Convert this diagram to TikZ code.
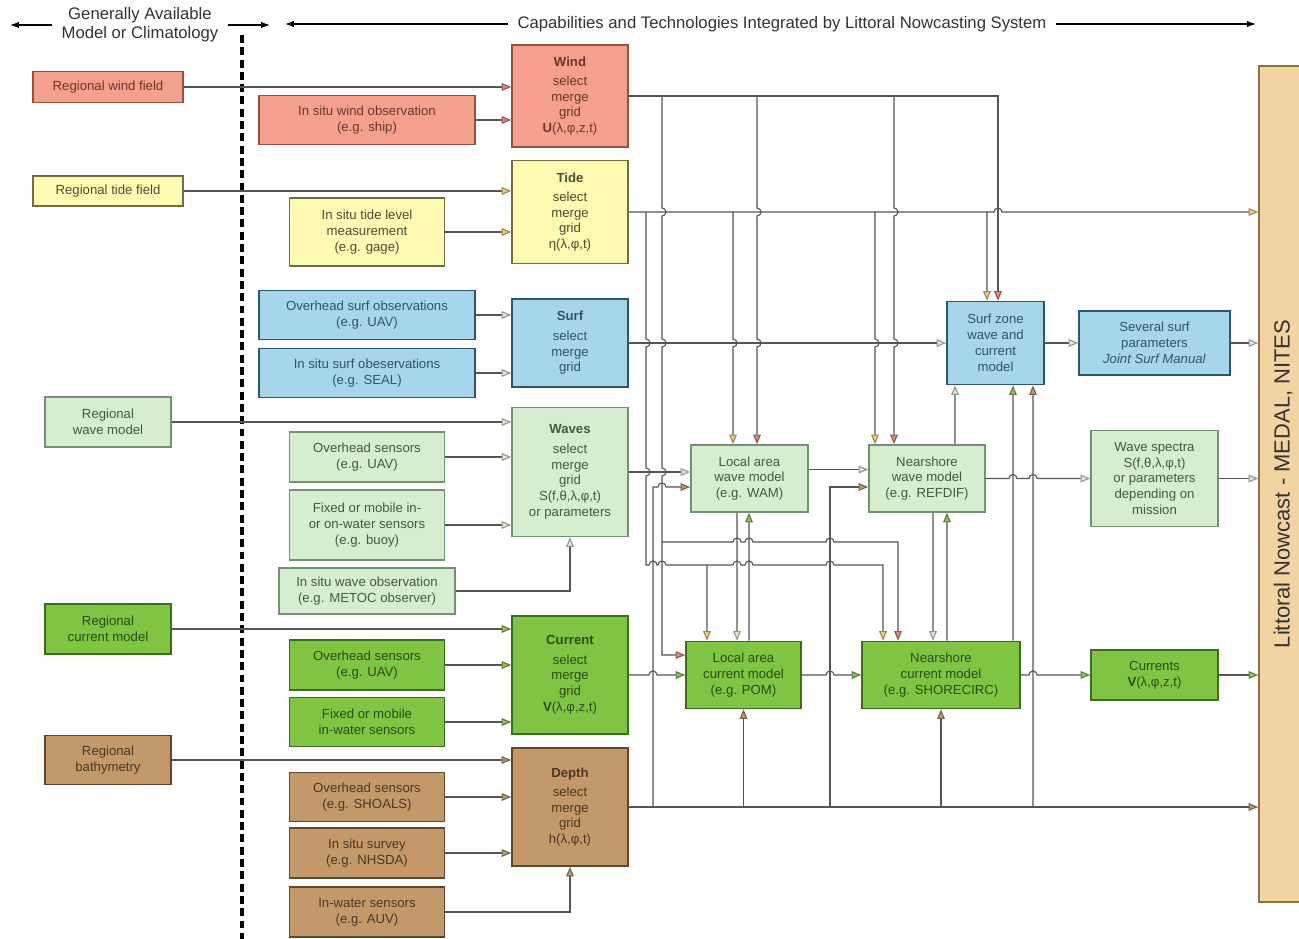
\documentclass[tikz,border=0pt]{standalone}
\usepackage{fontspec}
\setmainfont{Liberation Sans}
\usepackage{graphicx}
\usetikzlibrary{arrows.meta}

\definecolor{windfill}{RGB}{244,160,140}
\definecolor{winddraw}{RGB}{150,80,65}
\definecolor{tidefill}{RGB}{255,250,178}
\definecolor{tidedraw}{RGB}{110,110,70}
\definecolor{surffill}{RGB}{166,214,235}
\definecolor{surfdraw}{RGB}{45,85,110}
\definecolor{wavefill}{RGB}{214,237,208}
\definecolor{wavedraw}{RGB}{115,145,115}
\definecolor{curfill}{RGB}{128,196,68}
\definecolor{curdraw}{RGB}{60,110,30}
\definecolor{depfill}{RGB}{195,152,106}
\definecolor{depdraw}{RGB}{95,70,45}
\definecolor{barfill}{RGB}{242,212,162}
\definecolor{bardraw}{RGB}{140,115,70}
\definecolor{lncol}{RGB}{85,85,85}
\definecolor{windtip}{RGB}{225,140,120}
\definecolor{tidetip}{RGB}{240,210,130}
\definecolor{surftip}{RGB}{220,235,245}
\definecolor{wavetip}{RGB}{220,238,212}
\definecolor{curtip}{RGB}{150,195,90}
\definecolor{deptip}{RGB}{180,155,125}

\tikzset{
  box/.style 2 args={draw, line width=0.9pt, minimum width=#1*0.02cm,
    minimum height=#2*0.02cm, inner sep=1pt, align=center,
    font=\fontsize{7.5}{9}\selectfont},
  windbox/.style={fill=windfill, draw=winddraw, text=winddraw!70!black},
  tidebox/.style={fill=tidefill, draw=tidedraw, text=tidedraw!70!black},
  surfbox/.style={fill=surffill, draw=surfdraw, text=surfdraw},
  wavebox/.style={fill=wavefill, draw=wavedraw, text=wavedraw!60!black},
  curbox/.style={fill=curfill, draw=curdraw, text=curdraw!70!black},
  depbox/.style={fill=depfill, draw=depdraw, text=depdraw!80!black},
  barbox/.style={fill=barfill, draw=bardraw, text=black!80},
  ln/.style={draw=lncol, line width=0.65pt},
  tip/.style={-{Triangle[length=5.5pt,width=4.4pt,fill=#1,color=#1!65!black]}},
  head/.style={font=\fontsize{9.5}{11}\selectfont, align=center, inner sep=5pt, text=black!80},
  headarr/.style={-{Latex[length=5pt,width=3.5pt]}, line width=0.6pt},
  divider/.style={line width=2pt, dash pattern=on 4.5pt off 2.5pt},
}
\newcommand{\hopr}{0.08cm}

\begin{document}
\begin{tikzpicture}[x=0.02cm, y=-0.02cm]
\useasboundingbox (0,0) rectangle (1299,939);

% headers
\node[head] (hleft) at (140,25) {Generally Available\\Model or Climatology};
\node[head] (hright) at (782,24) {Capabilities and Technologies Integrated by Littoral Nowcasting System};
\draw[headarr] (hleft.west) -- (10,25);
\draw[headarr] (hleft.east) -- (270,25);
\draw[headarr] (hright.west) -- (285,24);
\draw[headarr] (hright.east) -- (1256,24);
\draw[divider] (242,35) -- (242,939);

% regional fields
\node[box={150}{31}, windbox] (rwind) at (108,87) {Regional wind field};
\node[box={150}{30}, tidebox] (rtide) at (108,191) {Regional tide field};
\node[box={126}{50}, wavebox] (rwave) at (108,422) {Regional\\wave model};
\node[box={126}{50}, curbox] (rcur) at (108,629) {Regional\\current model};
\node[box={126}{49}, depbox] (rbath) at (108,760) {Regional\\bathymetry};

% observations
\node[box={216}{49}, windbox] (owind) at (367,120) {In situ wind observation\\(e.g. ship)};
\node[box={155}{68}, tidebox] (otide) at (367,232) {In situ tide level\\measurement\\(e.g. gage)};
\node[box={216}{49}, surfbox] (osurfa) at (367,315) {Overhead surf observations\\(e.g. UAV)};
\node[box={216}{49}, surfbox] (osurfb) at (367,373) {In situ surf obeservations\\(e.g. SEAL)};
\node[box={155}{50}, wavebox] (owavea) at (367,457) {Overhead sensors\\(e.g. UAV)};
\node[box={155}{70}, wavebox] (owaveb) at (367,525) {Fixed or mobile in-\\or on-water sensors\\(e.g. buoy)};
\node[box={176}{46}, wavebox] (owavec) at (367,591) {In situ wave observation\\(e.g. METOC observer)};
\node[box={155}{50}, curbox] (ocura) at (367,665) {Overhead sensors\\(e.g. UAV)};
\node[box={155}{49}, curbox] (ocurb) at (367,722) {Fixed or mobile\\in-water sensors};
\node[box={155}{49}, depbox] (odepa) at (367,797) {Overhead sensors\\(e.g. SHOALS)};
\node[box={155}{50}, depbox] (odepb) at (367,853) {In situ survey\\(e.g. NHSDA)};
\node[box={155}{50}, depbox] (odepc) at (367,912) {In-water sensors\\(e.g. AUV)};

% select merge grid
\node[box={116}{102}, windbox] (swind) at (570,96) {\textbf{Wind}\\[2pt]select\\merge\\grid\\\textbf{U}(λ,φ,z,t)};
\node[box={116}{103}, tidebox] (stide) at (570,212) {\textbf{Tide}\\[2pt]select\\merge\\grid\\η(λ,φ,t)};
\node[box={116}{88}, surfbox] (ssurf) at (570,343) {\textbf{Surf}\\[2pt]select\\merge\\grid};
\node[box={116}{129}, wavebox] (swave) at (570,472) {\textbf{Waves}\\[2pt]select\\merge\\grid\\S(f,θ,λ,φ,t)\\or parameters};
\node[box={116}{118}, curbox] (scur) at (570,675) {\textbf{Current}\\[2pt]select\\merge\\grid\\\textbf{V}(λ,φ,z,t)};
\node[box={116}{118}, depbox] (sdep) at (570,807) {\textbf{Depth}\\[2pt]select\\merge\\grid\\h(λ,φ,t)};

% models and products
\node[box={117}{67}, wavebox] (wam) at (749.5,478.5) {Local area\\wave model\\(e.g. WAM)};
\node[box={116}{67}, wavebox] (nwm) at (927,478.5) {Nearshore\\wave model\\(e.g. REFDIF)};
\node[box={97}{83}, surfbox] (szm) at (995.5,343) {Surf zone\\wave and\\current\\model};
\node[box={151}{64}, surfbox] (ssp) at (1154.5,343) {Several surf\\parameters\\\textit{Joint Surf Manual}};
\node[box={127}{96}, wavebox] (wsp) at (1154.5,478.5) {Wave spectra\\S(f,θ,λ,φ,t)\\or parameters\\depending on\\mission};
\node[box={115}{67}, curbox] (lacm) at (743.5,675) {Local area\\current model\\(e.g. POM)};
\node[box={158}{67}, curbox] (ncm) at (941,675) {Nearshore\\current model\\(e.g. SHORECIRC)};
\node[box={127}{50}, curbox] (curs) at (1154.5,675) {Currents\\\textbf{V}(λ,φ,z,t)};
\node[box={48}{836}, barbox] (bar) at (1283,484) {\rotatebox{90}{\fontsize{12.5}{14}\selectfont Littoral Nowcast - MEDAL, NITES}};

% inputs into select boxes
\foreach \a/\b/\c in {rwind/swind/windtip, owind/swind/windtip, rtide/stide/tidetip,
    otide/stide/tidetip, osurfa/ssurf/surftip, osurfb/ssurf/surftip, rwave/swave/wavetip,
    owavea/swave/wavetip, owaveb/swave/wavetip, rcur/scur/curtip, ocura/scur/curtip,
    ocurb/scur/curtip, rbath/sdep/deptip, odepa/sdep/deptip, odepb/sdep/deptip}
  \draw[ln, tip=\c] (\a.east) -- (\a.east -| \b.west);
\draw[ln, tip=wavetip] (owavec.east) -| (swave.south);
\draw[ln, tip=deptip] (odepc.east) -| (sdep.south);

% wind
\draw[ln, tip=windtip] (swind.east) -| ([xshift=0.05cm]szm.north);
\draw[ln, tip=windtip] (757,96) \foreach \h in {212,343} {-- (757,\h-4) arc[start angle=90,end angle=-90,radius=\hopr]} -- ([xshift=0.15cm]wam.north);
\draw[ln, tip=windtip] (894,96) \foreach \h in {212,343} {-- (894,\h-4) arc[start angle=90,end angle=-90,radius=\hopr]} -- ([xshift=-0.66cm]nwm.north);
\draw[ln, tip=windtip] (662,96) \foreach \h in {212,343,472} {-- (662,\h-4) arc[start angle=90,end angle=-90,radius=\hopr]} |- ([yshift=0.4cm]lacm.west);
\draw[ln, tip=windtip] (662,542) \foreach \h in {737,749,830} {-- (\h-4,542) arc[start angle=180,end angle=0,radius=\hopr]} -| ([xshift=-0.86cm]ncm.north);

% tide
\draw[ln, tip=tidetip] (stide.east) -- (994,212) arc[start angle=180,end angle=0,radius=\hopr] -- (stide.east -| bar.west);
\draw[ln, tip=tidetip] (987,212) -- ([xshift=-0.17cm]szm.north);
\draw[ln, tip=tidetip] (733,212) -- (733,339) arc[start angle=90,end angle=-90,radius=\hopr] -- ([xshift=-0.33cm]wam.north);
\draw[ln, tip=tidetip] (875,212) -- (875,339) arc[start angle=90,end angle=-90,radius=\hopr] -- ([xshift=-1.04cm]nwm.north);
\draw[ln, tip=tidetip] (646,212) \foreach \h in {343,472} {-- (646,\h-4) arc[start angle=90,end angle=-90,radius=\hopr]} -- (646,565)
  \foreach \h in {653,662,737,749,830} {-- (\h-4,565) arc[start angle=180,end angle=0,radius=\hopr]} -| ([xshift=-1.16cm]ncm.north);
\draw[ln, tip=tidetip] (707,565) -- ([xshift=-0.73cm]lacm.north);

% surf
\draw[ln, tip=surftip] (ssurf.east) -- (szm.west);
\draw[ln, tip=surftip] (szm.east) -- (ssp.west);
\draw[ln, tip=surftip] (ssp.east) -- (ssp.east -| bar.west);

% waves
\draw[ln, tip=wavetip] (swave.east) -- (swave.east -| wam.west);
\draw[ln, tip=wavetip] ([yshift=0.18cm]wam.east) -- ([yshift=0.18cm]nwm.west);
\draw[ln, tip=wavetip] (nwm.east) \foreach \h in {1013,1033} {-- (\h-4,478.5) arc[start angle=180,end angle=0,radius=\hopr]} -- (wsp.west);
\draw[ln, tip=wavetip] (wsp.east) -- (wsp.east -| bar.west);
\draw[ln, tip=wavetip] ([xshift=-0.25cm]wam.south) -- ([xshift=-0.13cm]lacm.north);
\draw[ln, tip=wavetip] ([xshift=0.12cm]nwm.south) -- ([xshift=-0.16cm]ncm.north);
\draw[ln, tip=wavetip] ([xshift=0.56cm]nwm.north) -- ([xshift=-0.81cm]szm.south);

% current
\draw[ln, tip=curtip] (scur.east) -- (649,675) arc[start angle=180,end angle=0,radius=\hopr] -- (lacm.west);
\draw[ln, tip=curtip] (lacm.east) -- (826,675) arc[start angle=180,end angle=0,radius=\hopr] -- (ncm.west);
\draw[ln, tip=curtip] (ncm.east) -- (1029,675) arc[start angle=180,end angle=0,radius=\hopr] -- (curs.west);
\draw[ln, tip=curtip] (curs.east) -- (curs.east -| bar.west);
\draw[ln, tip=curtip] ([xshift=0.11cm]lacm.north) -- ([xshift=-0.01cm]wam.south);
\draw[ln, tip=curtip] ([xshift=0.12cm]ncm.north) -- ([xshift=0.4cm]nwm.south);
\draw[ln, tip=curtip] ([xshift=1.44cm]ncm.north) -- ([xshift=0.35cm]szm.south);

% depth
\draw[ln, tip=deptip] (sdep.east) -- (sdep.east -| bar.west);
\draw[ln, tip=deptip] (653,807) -- (653,487) -- (658,487) arc[start angle=180,end angle=0,radius=\hopr] -- ([yshift=-0.17cm]wam.west);
\draw[ln, tip=deptip] (lacm.south |- sdep.east) -- (lacm.south);
\draw[ln, tip=deptip] (830,807) |- ([yshift=-0.17cm]nwm.west);
\draw[ln, tip=deptip] (ncm.south |- sdep.east) -- (ncm.south);
\draw[ln, tip=deptip] (1033,807) -- ([xshift=0.75cm]szm.south);
\end{tikzpicture}
\end{document}
